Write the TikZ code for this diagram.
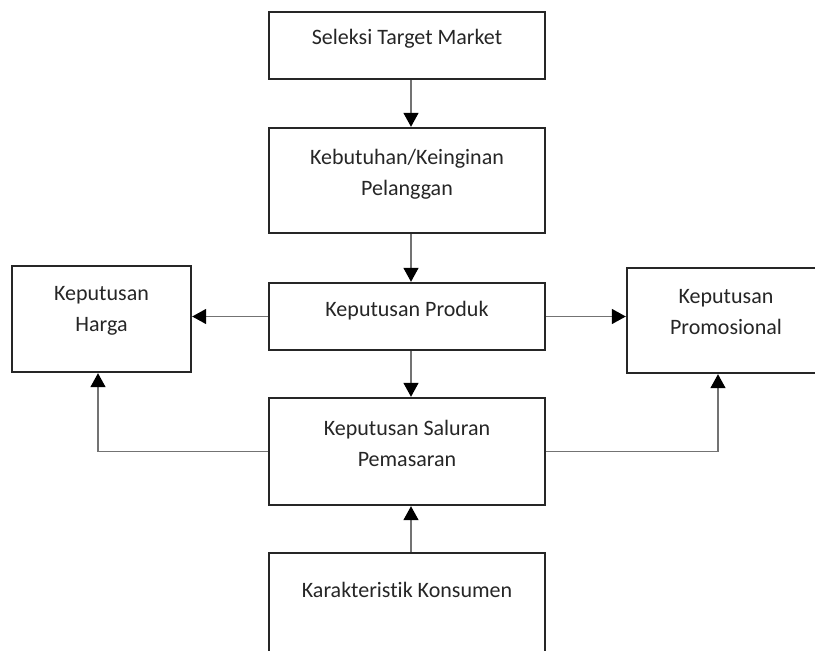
\documentclass[tikz,border=0pt]{standalone}
\usepackage{fontspec}
\setmainfont{Carlito}[Ligatures={NoCommon}]
\usetikzlibrary{arrows.meta}
\begin{document}
\begin{tikzpicture}[x=1pt,y=-1pt,
 box/.style={draw=black!85,line width=2.4pt,rectangle,inner sep=0pt,fill=white},
 txt/.style={align=center,text=black!85,font=\fontsize{22}{31}\selectfont,inner sep=0pt},
 conn/.style={draw=black!55,line width=1.5pt,-{Triangle[length=14pt,width=15pt,color=black]}}]
\useasboundingbox (0,0) rectangle (815,651);
\coordinate (ax) at (411,0);
\coordinate (hx) at (98,0);
\coordinate (px) at (718,0);
\node[box,minimum width=276pt,minimum height=67pt] (sel) at (407,45.5) {};
\node[box,minimum width=276pt,minimum height=105pt] (keb) at (407,180.5) {};
\node[box,minimum width=276pt,minimum height=67pt] (pro) at (407,316.5) {};
\node[box,minimum width=179pt,minimum height=106pt] (har) at (101.5,319) {};
\node[box,minimum width=198pt,minimum height=105pt] (prm) at (726,320.5) {};
\node[box,minimum width=276pt,minimum height=107pt] (sal) at (407,451.5) {};
\node[box,minimum width=276pt,minimum height=107pt] (kon) at (407,606.5) {};
\node[txt] (tsel) at (407,39) {Seleksi Target Market};
\node[txt] (tkeb) at (407,174) {Kebutuhan/Keinginan\\Pelanggan};
\node[txt] (tpro) at (407,311) {Keputusan Produk};
\node[txt] (thar) at (101.5,311) {Keputusan\\Harga};
\node[txt] (tprm) at (726,312.5) {Keputusan\\Promosional};
\node[txt] (tsal) at (407,443.5) {Keputusan Saluran\\Pemasaran};
\node[txt] (tkon) at (407,590) {Karakteristik Konsumen};
\draw[conn] (sel.south -| ax) -- (keb.north -| ax);
\draw[conn] (keb.south -| ax) -- (pro.north -| ax);
\draw[conn] (pro.south -| ax) -- (sal.north -| ax);
\draw[conn] (kon.north -| ax) -- (sal.south -| ax);
\draw[conn] (pro.west) -- (har.east |- pro.west);
\draw[conn] (pro.east) -- (prm.west |- pro.east);
\draw[conn] (sal.west) -| (har.south -| hx);
\draw[conn] (sal.east) -| (prm.south -| px);
\end{tikzpicture}
\end{document}
